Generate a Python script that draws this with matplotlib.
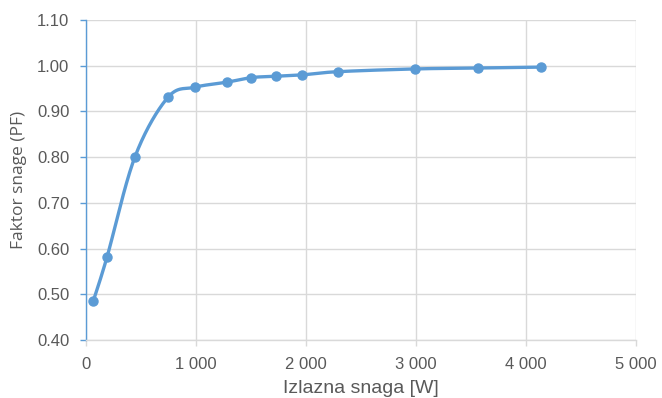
import matplotlib
matplotlib.use('Agg')
import matplotlib.pyplot as plt
import numpy as np

# Output power [W] vs. power factor
power_w = [65, 190, 445, 745, 990, 1280, 1500, 1727, 1964, 2290, 2990, 3564, 4136]
power_factor = [0.485, 0.581, 0.801, 0.931, 0.953, 0.964, 0.974, 0.977, 0.980,
                0.987, 0.993, 0.995, 0.997]

x_ticks = [0, 1000, 2000, 3000, 4000, 5000]
x_tick_labels = ['0', '1 000', '2 000', '3 000', '4 000', '5 000']
y_ticks = [0.40, 0.50, 0.60, 0.70, 0.80, 0.90, 1.00, 1.10]

SERIES = '#5B9BD5'
TEXT = '#595959'
GRID = '#D9D9D9'


def smooth_curve(xs, ys, steps=30):
    """Catmull-Rom style smoothing like a spreadsheet 'smoothed line'."""
    xs = np.asarray(xs, float)
    ys = np.asarray(ys, float)
    px = np.concatenate([[xs[0]], xs, [xs[-1]]])
    py = np.concatenate([[ys[0]], ys, [ys[-1]]])
    out_x, out_y = [], []
    t = np.linspace(0, 1, steps)
    for i in range(1, len(px) - 2):
        p0, p1, p2, p3 = (np.array([px[j], py[j]]) for j in range(i - 1, i + 3))
        c1 = p1 + (p2 - p0) / 6
        c2 = p2 - (p3 - p1) / 6
        pts = ((1 - t) ** 3)[:, None] * p1 + (3 * (1 - t) ** 2 * t)[:, None] * c1 \
            + (3 * (1 - t) * t ** 2)[:, None] * c2 + (t ** 3)[:, None] * p2
        out_x.extend(pts[:, 0])
        out_y.extend(pts[:, 1])
    return out_x, out_y


plt.rcParams['font.family'] = ['Liberation Sans', 'DejaVu Sans']

fig = plt.figure(figsize=(6.62, 3.98), dpi=100)
ax = fig.add_axes([0.13, 0.1457, 0.8307, 0.804])

sx, sy = smooth_curve(power_w, power_factor)
ax.plot(sx, sy, color=SERIES, linewidth=2.4, solid_capstyle='round', zorder=3)
ax.plot(power_w, power_factor, 'o', color=SERIES, markersize=6.5, zorder=4)

ax.set_xlim(0, 5000)
ax.set_ylim(0.40, 1.10)
ax.set_xticks(x_ticks)
ax.set_xticklabels(x_tick_labels)
ax.set_yticks(y_ticks)
ax.set_yticklabels([f'{v:.2f}' for v in y_ticks])

ax.grid(True, color=GRID, linewidth=1.0, zorder=0)
ax.set_axisbelow(True)

for side in ('top', 'right'):
    ax.spines[side].set_visible(False)
ax.spines['left'].set_color(SERIES)
ax.spines['left'].set_linewidth(1.0)
ax.spines['bottom'].set_color(GRID)
ax.spines['bottom'].set_linewidth(1.0)

ax.tick_params(axis='y', colors=SERIES, labelcolor=TEXT, labelsize=12,
               length=4, width=1.0, pad=8)
ax.tick_params(axis='x', colors=GRID, labelcolor=TEXT, labelsize=12,
               length=4, width=1.0, pad=8)

ax.set_xlabel('Izlazna snaga [W]', color=TEXT, fontsize=14, labelpad=6)
ax.set_ylabel('Faktor snage (PF)', color=TEXT, fontsize=12.5,
              family=['Open Sans', 'DejaVu Sans'], labelpad=7)

fig.savefig('out.png', dpi=100)
